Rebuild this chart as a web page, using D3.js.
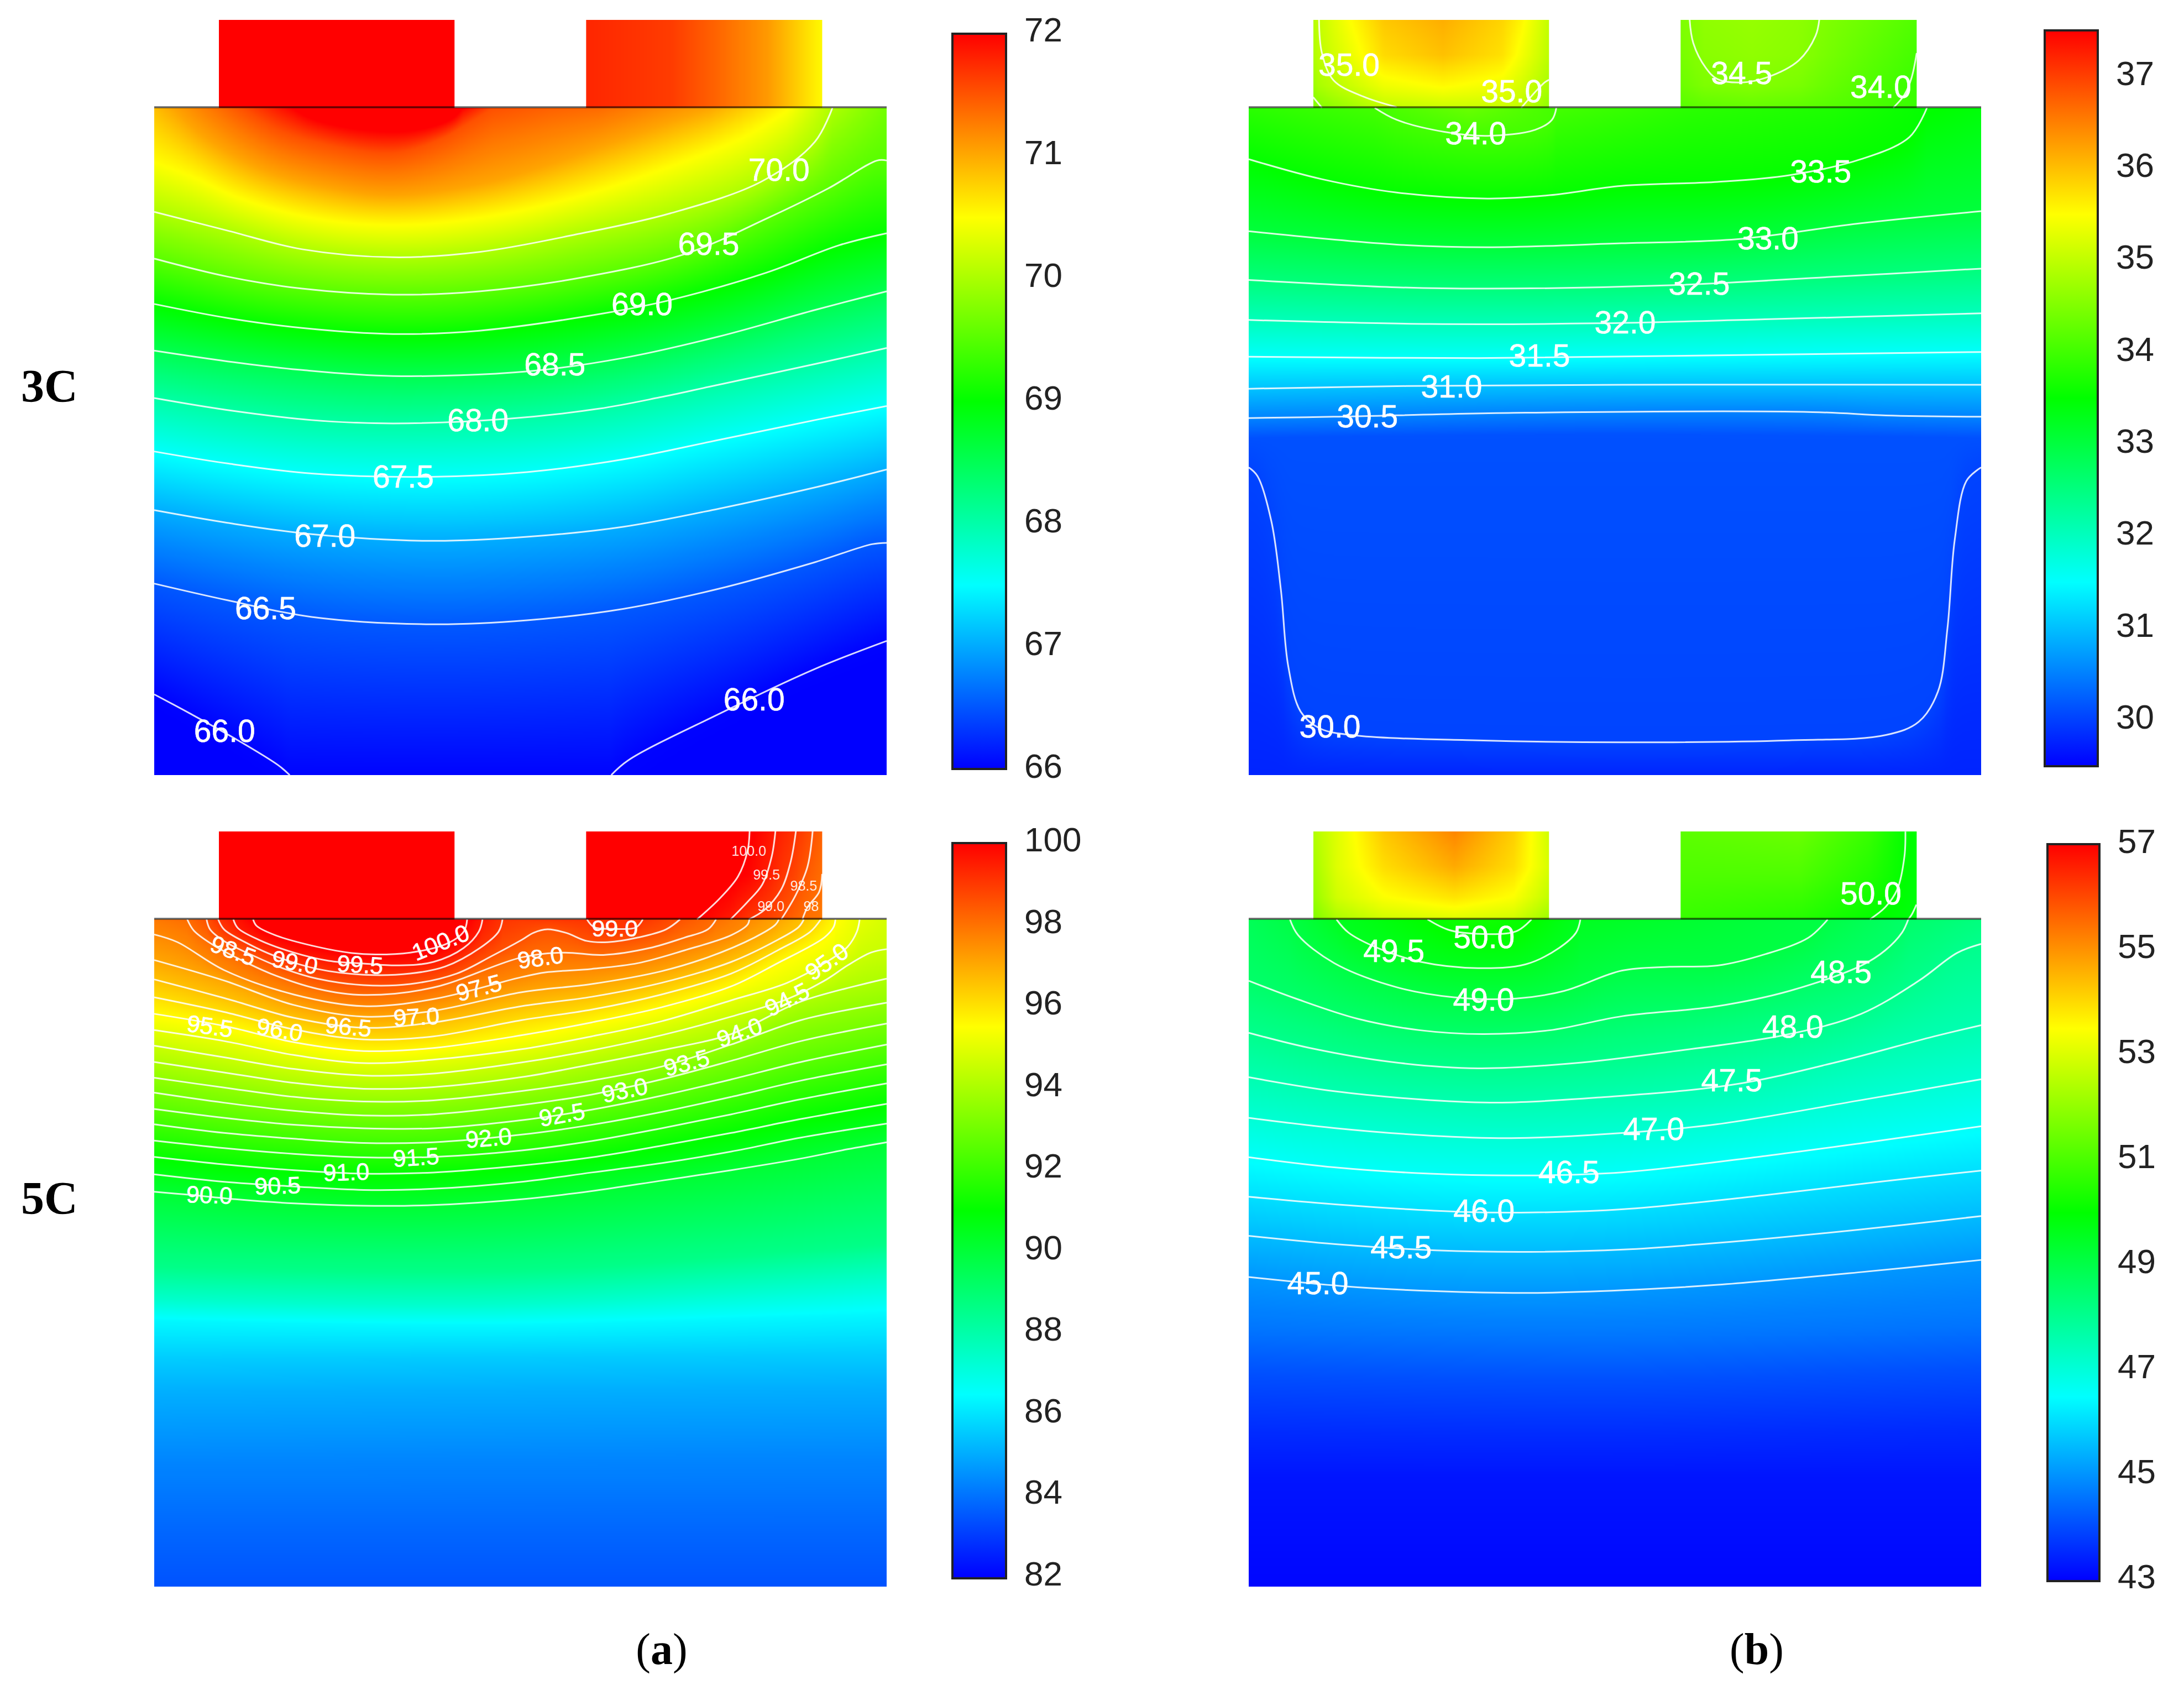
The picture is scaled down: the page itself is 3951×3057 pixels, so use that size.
<!DOCTYPE html>
<html>
<head>
<meta charset="utf-8">
<script src="https://d3js.org/d3.v7.min.js"></script>
<style>
  html, body { margin: 0; background: #fff; }
  svg { display: block; }
</style>
</head>
<body>
<script>
// isotherms: [temperature, [[x, y], ...]]
// 3C (a) and 3C (b) are in percent of the cell body, 5C panels in digitising units (see domains below)

var lines3a = [
  [70.0, [[0,15.6],[10,18.4],[20.2,21.2],[32.6,22.4],[44.4,21.6],[57.5,19],[70.5,15.8],[83,11],[90.2,5.1],[92.6,0]]],
  [69.5, [[0,22.6],[10,25.3],[20.2,27.1],[32.6,28],[44.4,27.5],[57.5,25.6],[72.5,21.9],[83.6,16.6],[92,12.1],[98.7,7.9],[100,7.9]]],
  [69.0, [[0,29.4],[10,31.5],[20.2,33],[32.6,33.9],[44.4,33.4],[61.4,30.8],[70.5,28.8],[83.6,24.7],[93.5,20.6],[100,18.8]]],
  [68.5, [[0,36.4],[10,38],[20.2,39.3],[32.6,40.2],[51,39.5],[64,37.5],[77,34.3],[90.2,30.3],[100,27.5]]],
  [68.0, [[0,43.5],[10,45.3],[21.5,46.8],[32.6,47.3],[48.3,46.6],[60.7,45.1],[69,43.4],[75.8,41.8],[90.2,38.4],[100,36]]],
  [67.5, [[0,51.5],[10,53.3],[21.5,54.8],[37.8,55.3],[50.9,54.6],[64,52.7],[77,49.8],[90.2,46.8],[100,44.7]]],
  [67.0, [[0,60.3],[10,62.2],[21.5,63.9],[37.8,64.9],[50.9,64.3],[64,62.8],[77,60.1],[90.2,56.9],[100,54.2]]],
  [66.5, [[0,71.3],[10,73.8],[21.5,76.3],[37.8,77.4],[50.9,76.8],[64,75.1],[77,72.1],[90.2,68.1],[98,65.4],[100,65.2]]],
  [66.0, [[0,87.9],[5.1,90.9],[11.6,94.9],[16.9,98.5],[18.5,100]]],
  [66.0, [[62.4,100],[64.7,97.8],[77,90.9],[90.2,84.1],[100,79.9]]]
];
var hidden3a = [
  [70.5, [[0,7.7],[5.1,9.9],[11.6,13.2],[21.5,16.2],[32.6,17.3],[44.4,16.2],[57.5,13.1],[70.5,8.4],[80.4,4],[86.3,0]]],
  [71.0, [[2.5,0],[6.4,4],[14.9,9.2],[24.7,12.1],[32.6,13.1],[44.4,11.4],[54.2,8.4],[64,4.7],[75.8,0]]],
  [71.5, [[12,0],[16.9,3.3],[24.7,5.8],[32.6,6.8],[39.1,4.7],[43.7,1.8],[46.3,0]]],
  [71.97, [[18.8,0],[21,1.4],[26,2.9],[33.2,3.6],[38,2.8],[41,1.4],[42.1,0]]]
];
var topEdge3a = [[0,70.85],[2.5,71],[12,71.5],[18.8,71.97],[30,72.3],[42.1,71.97],[46.3,71.5],[54.2,71.4],[60.7,71.35],[67.3,71.2],[75.8,71],[86.3,70.5],[92.6,70],[100,69.65]];
var bottomEdge3a = [[0,65.9],[18.5,66],[62.4,66],[100,65.85]];
var labels3a = [
  ["70.0",85.3,9.2,0],["69.5",75.7,20.3,0],["69.0",66.6,29.4,0],["68.5",54.7,38.4,0],["68.0",44.2,46.8,0],
  ["67.5",34,55.2,0],["67.0",23.3,64.1,0],["66.5",15.2,74.9,0],["66.0",9.6,93.3,0],["66.0",81.9,88.6,0]
];
var tabLines3a = [];
var tabs3a = [
  {cols:[0,100], rows:[0,100], values:[[72.3,72.3],[72.3,72.3]]},
  {cols:[0,36,56,77,100], rows:[0,100], values:[[71.75,71.62,71.37,71.06,70.5],[71.75,71.62,71.37,71.06,70.5]]}
];
var ticks3a = [66,67,68,69,70,71,72];
var range3a = [65.98,71.97];

var lines3b = [
  [34.0, [[17.2,0],[20.2,1.8],[26.7,3.6],[32.6,4.2],[39.1,3.3],[41.4,1.8],[42,0]]],
  [33.5, [[0,7.7],[10,10.7],[20.2,12.7],[32.6,13.6],[41.1,13.1],[50.9,11.7],[64,11.1],[73.8,10.1],[83.6,7.7],[90.2,4.4],[92.6,0]]],
  [33.0, [[0,18.5],[20.2,20.5],[32.6,20.9],[50.9,20.3],[66.6,19.7],[83.6,17.3],[100,15.5]]],
  [32.5, [[0,25.8],[20.2,26.9],[32.6,27.1],[57.5,26.6],[80.4,25.3],[100,24.1]]],
  [32.0, [[0,31.8],[24.7,32.4],[47.6,32.3],[70.5,31.7],[100,30.8]]],
  [31.5, [[0,37.3],[31.3,37.5],[64,37.1],[100,36.6]]],
  [31.0, [[0,42.1],[21.5,41.7],[50.9,41.5],[100,41.5]]],
  [30.5, [[0,46.5],[11.6,46.3],[37.8,45.7],[77,45.6],[87,46.1],[100,46.3]]],
  [30.0, [[0,53.9],[1.2,55.2],[3.1,62],[4.4,72.3],[5.4,83.7],[7.1,90.5],[9.7,93],[14.9,94.1],[31.3,94.8],[50.9,95.1],[73.8,94.8],[87,94],[91.5,92],[94.1,87.5],[95.4,78],[96.4,64.7],[98,55.9],[100,53.9]]]
];
var hidden3b = [
  [30.1, [[0,49.5],[50,49],[100,49.5]]]
];
var topEdge3b = [[0,33.8],[17.2,34],[30,34.3],[42,34],[60,33.8],[80,33.7],[92.6,33.5],[100,33.4]];
var bottomEdge3b = [[0,29.75],[100,29.75]];
var labels3b = [
  ["35.0",13.7,-6.5,0],["35.0",35.9,-2.5,0],["34.5",67.3,-5.3,0],["34.0",86.3,-3.2,0],["34.0",31,3.8,0],
  ["33.5",78.1,9.5,0],["33.0",70.9,19.5,0],["32.5",61.5,26.3,0],["32.0",51.4,32.1,0],["31.5",39.7,37.1,0],
  ["31.0",27.7,41.7,0],["30.5",16.2,46.2,0],["30.0",11.1,92.7,0]
];
var tabLines3b = [
  [35.0, [[9.6,-13.2],[10,-8.2],[11.6,-4.1],[15.6,-1.7],[20.2,-0.1]]],
  [35.0, [[37.2,0],[40.4,-3.8],[41,-4.2]]],
  [34.5, [[8.8,-1.6],[10,0]]],
  [34.5, [[60.2,-13.2],[60.7,-9.7],[62.4,-6],[64,-4.3],[67.3,-3.8],[70.6,-4.5],[75.1,-7.1],[77.4,-10.8],[77.9,-13.2]]],
  [34.0, [[91.2,-8.2],[90.5,-4.5],[89.5,-1.9],[88,0]]]
];
var tabs3b = [
  {cols:[0,2,15,30,55,80,88,100], rows:[0,40,75,100], values:[
    [34.9,35,35.45,35.9,36.1,35.8,35.55,35],
    [34.85,34.95,35.3,35.75,35.95,35.7,35.4,34.95],
    [34.7,34.8,35.05,35.35,35.5,35.35,35.15,34.8],
    [34.45,34.5,34.7,34.98,35.05,35.05,35,34.6]]},
  {cols:[0,10,30,50,60,80,100], rows:[0,40,75,100], values:[
    [34.45,34.6,34.65,34.58,34.48,34.3,34.1],
    [34.4,34.55,34.6,34.55,34.42,34.2,34],
    [34.3,34.45,34.5,34.42,34.3,34.1,33.9],
    [34.15,34.2,34.25,34.2,34.15,34.05,33.9]]}
];
var ticks3b = [30,31,32,33,34,35,36,37];
var range3b = [29.47,37.47];

var lines5a = [
  [90.0, [[0,1178],[140,1190],[350,1210],[600,1228],[900,1238],[1200,1235],[1580,1210],[1880,1175],[2180,1130],[2480,1085],[2780,1035],[2980,995],[3148,965]]],
  [90.5, [[0,1103],[300,1135],[600,1155],[900,1170],[1200,1165],[1580,1135],[1880,1095],[2180,1055],[2480,1005],[2780,945],[3148,885]]],
  [91.0, [[0,1028],[300,1060],[600,1085],[900,1100],[1200,1095],[1580,1065],[1880,1030],[2180,980],[2480,925],[2780,865],[3148,800]]],
  [91.5, [[0,958],[300,990],[600,1015],[900,1030],[1200,1028],[1580,1000],[1880,960],[2180,905],[2480,845],[2780,780],[3148,712]]],
  [92.0, [[0,888],[300,925],[600,950],[900,968],[1200,965],[1580,932],[1880,890],[2180,835],[2480,770],[2780,700],[3148,630]]],
  [92.5, [[0,822],[300,860],[600,890],[900,905],[1200,905],[1580,870],[1880,825],[2180,765],[2480,695],[2780,620],[3148,545]]],
  [93.0, [[0,752],[300,795],[600,830],[900,850],[1200,845],[1580,805],[1880,760],[2180,695],[2480,615],[2780,530],[3148,455]]],
  [93.5, [[0,688],[300,730],[600,770],[900,790],[1200,785],[1580,745],[1880,700],[2180,640],[2480,545],[2780,440],[3148,365]]],
  [94.0, [[0,620],[300,665],[600,710],[900,735],[1200,728],[1580,685],[1880,630],[2180,570],[2480,500],[2780,360],[3148,262]]],
  [94.5, [[0,550],[300,600],[600,650],[900,678],[1200,670],[1580,622],[1880,570],[2180,505],[2480,425],[2720,350],[2890,265],[2980,205],[3080,150],[3148,135]]],
  [95.0, [[0,483],[300,530],[600,590],[900,625],[1200,610],[1580,565],[1880,510],[2180,445],[2480,355],[2720,280],[2890,190],[2980,125],[3020,60],[3032,7]]],
  [95.5, [[0,413],[300,465],[600,535],[900,573],[1200,560],[1580,505],[1880,450],[2180,385],[2480,295],[2680,195],[2880,85],[2920,40],[2928,7]]],
  [96.0, [[0,342],[300,405],[600,480],[900,523],[1200,510],[1580,440],[1880,395],[2180,330],[2480,240],[2680,140],[2820,60],[2865,7]]],
  [96.5, [[0,265],[300,345],[600,430],[900,473],[1200,450],[1580,380],[1880,340],[2180,280],[2480,190],[2680,95],[2770,40],[2792,7]]],
  [97.0, [[0,182],[300,270],[600,375],[900,425],[1200,400],[1580,320],[1880,285],[2180,230],[2380,170],[2580,85],[2670,30],[2685,7]]],
  [97.5, [[0,72],[100,105],[300,225],[600,330],[900,380],[1200,350],[1580,255],[1680,235],[1880,220],[2080,195],[2280,140],[2480,75],[2550,30],[2558,7]]],
  [98.0, [[142,7],[170,55],[250,115],[350,170],[500,240],[700,305],[900,332],[1200,300],[1580,170],[1760,150],[1930,160],[2130,130],[2280,85],[2380,50],[2415,7]]],
  [98.5, [[225,7],[240,50],[300,100],[430,165],[560,220],[700,262],[900,290],[1100,285],[1300,240],[1450,165],[1580,95],[1630,65],[1690,50],[1770,65],[1860,100],[1950,105],[2080,85],[2200,50],[2260,7]]],
  [99.0, [[275,7],[300,50],[400,110],[520,165],[700,220],[900,245],[1100,240],[1250,210],[1400,130],[1480,60],[1497,7]]],
  [99.0, [[1860,7],[1890,40],[1980,48],[2070,42],[2100,7]]],
  [99.5, [[340,7],[360,45],[450,95],[600,150],[750,185],[900,197],[1050,205],[1200,190],[1330,130],[1395,60],[1411,7]]],
  [100.0, [[425,7],[440,35],[520,75],[700,125],[850,152],[950,158],[1100,150],[1250,115],[1330,60],[1345,7]]]
];
var hidden5a = [
  [88.5, [[0,1500],[1500,1520],[3148,1400]]],
  [87.3, [[0,1640],[1500,1660],[3148,1560]]],
  [86.3, [[0,1730],[1500,1750],[3148,1700]]],
  [85.5, [[0,1900],[3148,1880]]],
  [85.0, [[0,2040],[3148,2020]]],
  [84.25, [[0,2345],[3148,2330]]],
  [83.7, [[0,2640],[3148,2640]]]
];
var topEdge5a = [[0,97.8],[142,98],[225,98.5],[275,99],[340,99.5],[425,100],[800,100.6],[1345,100],[1411,99.5],[1497,99],[1580,98.9],[1860,99],[2100,99],[2260,98.5],[2415,98],[2558,97.5],[2685,97],[2792,96.5],[2865,96],[2928,95.5],[3032,95],[3148,94.7]];
var bottomEdge5a = [[0,83.35],[3148,83.35]];
var labels5a = [
  ["90.0",237,1190,2],["90.5",530,1150,-2],["91.0",825,1092,-2],["91.5",1125,1028,-4],["92.0",1437,945,-5],
  ["92.5",1752,845,-10],["93.0",2022,740,-12],["93.5",2288,622,-15],["94.0",2515,492,-20],["94.5",2720,350,-27],["95.0",2890,188,-35],
  ["95.5",240,465,8],["96.0",540,480,9],["96.5",835,467,5],["97.0",1127,425,-3],["97.5",1395,300,-15],
  ["98.0",1660,170,-8],["99.0",1980,45,0],["98.5",340,140,20],["99.0",605,190,10],["99.5",885,200,3],["100.0",1230,105,-22]
];
var smallLabels5a = [["100.0",2556,-288],["99.5",2632,-185],["98.5",2792,-139],["99.0",2651,-50],["98",2824,-50]];
var tabLines5a = [
  [100.0, [[2559,-372],[2550,-286],[2509,-177],[2427,-79],[2333,7]]],
  [99.5, [[2670,-372],[2654,-263],[2613,-142],[2550,-68],[2477,7]]],
  [99.0, [[2758,-372],[2736,-243],[2695,-122],[2622,-33],[2556,7]]],
  [98.5, [[2830,-372],[2808,-220],[2758,-99],[2695,7]]],
  [98.0, [[2871,-188],[2858,-111],[2808,-45],[2786,7]]]
];
var tabs5a = [
  {cols:[0,100], rows:[0,100], values:[[100.5,100.5],[100.5,100.5]]},
  {cols:[0,47,61,69,78,83,88,92,96,100], rows:[0,50,100], values:[
    [100.5,100.5,100.3,100.05,99.55,99.3,99.05,98.8,98.5,98.2],
    [100.5,100.3,100.1,99.85,99.35,99,98.75,98.45,98.2,98],
    [100.3,100,99.5,99,98.75,98.5,98.2,98,97.9,97.8]]}
];
var ticks5a = [82,84,86,88,90,92,94,96,98,100];
var range5a = [81.9,99.93];

var lines5b = [
  [50.0, [[395,398],[440,440],[500,455],[580,445],[612,398]]],
  [49.5, [[205,398],[230,450],[290,510],[380,565],[500,590],[600,575],[670,510],[705,450],[714,398]]],
  [49.0, [[108,398],[125,460],[200,570],[330,665],[450,705],[580,710],[680,680],[800,600],[900,585],[1000,580],[1100,535],[1190,470],[1230,398]]],
  [48.5, [[22,640],[120,710],[250,790],[380,835],[510,850],[650,835],[800,780],[1000,740],[1150,680],[1300,580],[1350,520],[1385,450],[1398,398]]],
  [48.0, [[22,845],[150,905],[320,960],[500,985],[700,965],[900,920],[1150,850],[1300,770],[1420,640],[1500,530],[1550,495]]],
  [47.5, [[22,1020],[200,1075],[400,1110],[550,1120],[750,1100],[1030,1050],[1250,960],[1450,860],[1550,815]]],
  [47.0, [[22,1180],[200,1220],[400,1250],[570,1260],[800,1240],[1000,1205],[1300,1110],[1550,1028]]],
  [46.5, [[22,1335],[200,1375],[400,1400],[600,1407],[800,1395],[1100,1330],[1300,1280],[1550,1213]]],
  [46.0, [[22,1491],[218,1523],[462,1550],[609,1553],[804,1540],[1098,1485],[1342,1431],[1550,1388]]],
  [45.5, [[22,1645],[218,1680],[413,1702],[609,1708],[804,1699],[1000,1673],[1293,1621],[1550,1567]]],
  [45.0, [[22,1807],[218,1843],[413,1863],[609,1870],[804,1859],[1000,1838],[1293,1789],[1550,1740]]]
];
var hidden5b = [
  [44.5, [[22,2022],[800,2054],[1550,2000]]],
  [44.0, [[22,2195],[800,2217],[1550,2174]]],
  [43.5, [[22,2423],[800,2434],[1550,2401]]],
  [43.2, [[22,2596],[1550,2596]]]
];
var topEdge5b = [[22,48.75],[108,49],[205,49.5],[395,50],[500,50.2],[612,50],[714,49.5],[1230,49],[1398,48.5],[1550,48.2]];
var bottomEdge5b = [[22,43],[1550,43]];
var labels5b = [
  ["50.0",1320,295,0],["50.0",513,467,0],["49.5",325,520,0],["49.0",512,712,0],["48.5",1258,603,0],["48.0",1157,820,0],
  ["47.5",1030,1030,0],["47.0",867,1222,0],["46.5",690,1392,0],["46.0",513,1545,0],["45.5",340,1688,0],["45.0",166,1830,0]
];
var tabLines5b = [
  [50.0, [[1392,52],[1390,150],[1375,280],[1350,350],[1318,398]]],
  [49.5, [[1415,340],[1405,380],[1398,398]]]
];
var tabs5b = [
  {cols:[0,10,30,60,85,100], rows:[0,40,75,100], values:[
    [52.4,53,54.2,55.1,54.1,52.8],
    [52.2,53,53.9,54.6,53.9,52.9],
    [52,52.8,53.4,53.8,53.4,52.6],
    [51.7,52.3,52.8,53,52.8,52.1]]},
  {cols:[0,50,80,95,100], rows:[0,50,100], values:[
    [51.2,51.4,50.7,50,49.9],
    [51,51,50.4,49.95,49.85],
    [50.7,50.45,50,49.8,49.7]]}
];
var ticks5b = [43,45,47,49,51,53,55,57];
var range5b = [42.92,56.95];

var rainbow = ["#0000ff","#00ffff","#00ff00","#ffff00","#ff0000"];
var rowNames = ["3C","5C"];
var partNames = ["a","b"];

// layout of the figure
var W = 3951, H = 3057;
var bodyW = 1325, bodyH = 1207, tabH = 159;
var tabSpan = [[0.0883,0.41],[0.5897,0.912]];

var panels = [
  {left:279,  top:195,  xd:[0,100],   yd:[0,100],    lines:lines3a, hidden:hidden3a, topEdge:topEdge3a, bottomEdge:bottomEdge3a, labels:labels3a, tabLines:tabLines3a, tabs:tabs3a, ticks:ticks3a, range:range3a, bar:[1723,61,97,1330],  fs:57, tickX:33},
  {left:2259, top:195,  xd:[0,100],   yd:[0,100],    lines:lines3b, hidden:hidden3b, topEdge:topEdge3b, bottomEdge:bottomEdge3b, labels:labels3b, tabLines:tabLines3b, tabs:tabs3b, ticks:ticks3b, range:range3b, bar:[3699,55,96,1331],  fs:57, tickX:33},
  {left:279,  top:1663, xd:[0,3148],  yd:[7,2875],   lines:lines5a, hidden:hidden5a, topEdge:topEdge5a, bottomEdge:bottomEdge5a, labels:labels5a, tabLines:tabLines5a, tabs:tabs5a, ticks:ticks5a, range:range5a, bar:[1723,1525,97,1330], fs:43, tickX:33, small:smallLabels5a},
  {left:2259, top:1663, xd:[22,1550], yd:[398,3027], lines:lines5b, hidden:hidden5b, topEdge:topEdge5b, bottomEdge:bottomEdge5b, labels:labels5b, tabLines:tabLines5b, tabs:tabs5b, ticks:ticks5b, range:range5b, bar:[3704,1527,94,1333], fs:57, tickX:33}
];

var svg = d3.select("body").append("svg")
  .attr("width", W)
  .attr("height", H)
  .attr("viewBox", "0 0 " + W + " " + H)
  .style("font-family", "'Liberation Sans', Arial, sans-serif");

svg.append("rect").attr("width", W).attr("height", H).attr("fill", "#fff");

var defs = svg.append("defs");

// paints a small canvas from a value function and returns it as an image url
function paintField(w, h, lut, valueAt) {
  var canvas = document.createElement("canvas");
  canvas.width = w;
  canvas.height = h;
  var ctx = canvas.getContext("2d");
  var img = ctx.createImageData(w, h);
  var column = valueAt(w, h);
  for (var i = 0; i < w; i++) {
    var f = column(i);
    for (var j = 0; j < h; j++) {
      var c = lut(f(j));
      var k = (j * w + i) * 4;
      img.data[k] = c[0];
      img.data[k + 1] = c[1];
      img.data[k + 2] = c[2];
      img.data[k + 3] = 255;
    }
  }
  ctx.putImageData(img, 0, 0);
  return canvas.toDataURL();
}

function edgeValue(edge, x) {
  return d3.scaleLinear().domain(edge.map(d => d[0])).range(edge.map(d => d[1])).clamp(true)(x);
}

// all places where isotherms cross the vertical at x
function crossings(allLines, x) {
  var out = [];
  allLines.forEach(function(line) {
    var pts = line[1];
    for (var i = 0; i < pts.length - 1; i++) {
      var a = pts[i], b = pts[i + 1];
      if (a[0] === b[0]) continue;
      if ((a[0] <= x && x < b[0]) || (b[0] <= x && x < a[0])) {
        out.push([a[1] + (b[1] - a[1]) * (x - a[0]) / (b[0] - a[0]), line[0]]);
      }
    }
  });
  return out;
}

panels.forEach(function(p, idx) {
  var g = svg.append("g").attr("class", "panel");

  var x = d3.scaleLinear().domain(p.xd).range([p.left, p.left + bodyW]);
  var y = d3.scaleLinear().domain(p.yd).range([p.top, p.top + bodyH]);

  var line = d3.line()
    .x(d => x(d[0]))
    .y(d => y(d[1]))
    .curve(d3.curveCatmullRom.alpha(0.5));

  // follow the drawn curve so the colours sit on the same isotherm as the line
  function densify(iso) {
    var path = document.createElementNS("http://www.w3.org/2000/svg", "path");
    path.setAttribute("d", line(iso[1]));
    var len = path.getTotalLength();
    var n = Math.ceil(len / 6);
    var pts = d3.range(n + 1).map(function(i) {
      var q = path.getPointAtLength(len * i / n);
      return [x.invert(q.x), y.invert(q.y)];
    });
    return [iso[0], pts];
  }

  // colour map shared by body, tabs and colour bar
  var lo = p.range[0], hi = p.range[1];
  var color = d3.scaleLinear()
    .domain(d3.range(5).map(i => lo + (hi - lo) * i / 4))
    .range(rainbow)
    .clamp(true);
  var table = d3.range(1025).map(function(i) {
    var c = d3.rgb(color(lo + (hi - lo) * i / 1024));
    return [c.r, c.g, c.b];
  });
  var lut = function(t) {
    var i = Math.round((t - lo) / (hi - lo) * 1024);
    return table[Math.max(0, Math.min(1024, i))];
  };

  // cell body
  var allLines = p.lines.concat(p.hidden).map(densify);
  var bodyUrl = paintField(663, 604, lut, function(w, h) {
    return function(i) {
      var xv = x.invert(p.left + (i + 0.5) * bodyW / w);
      var stops = crossings(allLines, xv);
      stops.push([p.yd[0] - 1e-6, edgeValue(p.topEdge, xv)]);
      stops.push([p.yd[1] + 1e-6, edgeValue(p.bottomEdge, xv)]);
      stops.sort((a, b) => a[0] - b[0]);
      var col = d3.scaleLinear().domain(stops.map(d => d[0])).range(stops.map(d => d[1]));
      return function(j) {
        return col(y.invert(p.top + (j + 0.5) * bodyH / h));
      };
    };
  });
  g.append("image")
    .attr("href", bodyUrl)
    .attr("x", p.left).attr("y", p.top)
    .attr("width", bodyW).attr("height", bodyH)
    .attr("preserveAspectRatio", "none");

  // the two tabs on top of the cell
  p.tabs.forEach(function(tab, ti) {
    var tx0 = p.left + tabSpan[ti][0] * bodyW;
    var tx1 = p.left + tabSpan[ti][1] * bodyW;
    var url = paintField(214, 80, lut, function(w, h) {
      var rows = tab.values.map(function(r) {
        return d3.scaleLinear().domain(tab.cols).range(r);
      });
      return function(i) {
        var cx = (i + 0.5) / w * 100;
        var vals = rows.map(r => r(cx));
        var col = d3.scaleLinear().domain(tab.rows).range(vals);
        return function(j) { return col((j + 0.5) / h * 100); };
      };
    });
    g.append("image")
      .attr("href", url)
      .attr("x", tx0).attr("y", p.top - tabH)
      .attr("width", tx1 - tx0).attr("height", tabH)
      .attr("preserveAspectRatio", "none");
  });

  // isotherms
  g.selectAll(".iso")
    .data(p.lines.concat(p.tabLines))
    .enter()
    .append("path")
      .attr("class", "iso")
      .attr("d", d => line(d[1]))
      .attr("fill", "none")
      .attr("stroke", "#fff")
      .attr("stroke-opacity", 0.85)
      .attr("stroke-width", 3);

  // dark seam between tabs and body
  g.append("line")
    .attr("x1", p.left).attr("x2", p.left + bodyW)
    .attr("y1", p.top - 1).attr("y2", p.top - 1)
    .attr("stroke", "#000")
    .attr("stroke-opacity", 0.6)
    .attr("stroke-width", 3.5);

  // contour labels
  g.selectAll(".iso-label")
    .data(p.labels)
    .enter()
    .append("text")
      .attr("class", "iso-label")
      .attr("transform", d => "translate(" + x(d[1]) + "," + y(d[2]) + ") rotate(" + d[3] + ")")
      .attr("text-anchor", "middle")
      .attr("dy", "0.36em")
      .attr("font-size", p.fs)
      .attr("fill", "#fff")
      .attr("stroke", "#fff")
      .attr("stroke-width", 0.6)
      .text(d => d[0]);

  if (p.small) {
    g.selectAll(".iso-small")
      .data(p.small)
      .enter()
      .append("text")
        .attr("class", "iso-small")
        .attr("x", d => x(d[1]))
        .attr("y", d => y(d[2]))
        .attr("text-anchor", "middle")
        .attr("dy", "0.36em")
        .attr("font-size", 25)
        .attr("fill", "#fff")
        .attr("fill-opacity", 0.9)
        .text(d => d[0]);
  }

  // colour bar
  var barX = p.bar[0], barY = p.bar[1], barW = p.bar[2], barH = p.bar[3];
  var gradId = "bar" + idx;
  var grad = defs.append("linearGradient")
    .attr("id", gradId)
    .attr("x1", 0).attr("x2", 0).attr("y1", 1).attr("y2", 0);
  grad.selectAll("stop")
    .data(rainbow)
    .enter()
    .append("stop")
      .attr("offset", (d, i) => i / 4)
      .attr("stop-color", d => d);

  g.append("rect")
    .attr("x", barX).attr("y", barY)
    .attr("width", barW).attr("height", barH)
    .attr("fill", "url(#" + gradId + ")")
    .attr("stroke", "#222")
    .attr("stroke-width", 4);

  var barScale = d3.scaleLinear().domain(p.range).range([barY + barH, barY]);
  var axis = d3.axisRight(barScale)
    .tickValues(p.ticks)
    .tickFormat(d3.format("d"))
    .tickSize(0)
    .tickPadding(0);
  var ax = g.append("g")
    .attr("transform", "translate(" + (barX + barW + p.tickX) + ",0)")
    .call(axis);
  ax.select(".domain").remove();
  ax.selectAll("text")
    .attr("font-size", 62)
    .attr("font-family", "'Liberation Sans', Arial, sans-serif")
    .attr("fill", "#222");
});

// row names
svg.selectAll(".row-name")
  .data(rowNames)
  .enter()
  .append("text")
    .attr("class", "row-name")
    .attr("x", 38)
    .attr("y", (d, i) => 727 + i * 1469)
    .attr("font-family", "'Liberation Serif', serif")
    .attr("font-weight", "bold")
    .attr("font-size", 84)
    .attr("fill", "#000")
    .text(d => d);

// part names (a) and (b), only the letter is bold
var part = svg.selectAll(".part-name")
  .data(partNames)
  .enter()
  .append("text")
    .attr("class", "part-name")
    .attr("x", (d, i) => 1197 + i * 1981)
    .attr("y", 3010)
    .attr("text-anchor", "middle")
    .attr("font-family", "'Liberation Serif', serif")
    .attr("font-size", 80)
    .attr("fill", "#000");
part.append("tspan").text("(");
part.append("tspan").attr("font-weight", "bold").text(d => d);
part.append("tspan").text(")");
</script>
</body>
</html>
